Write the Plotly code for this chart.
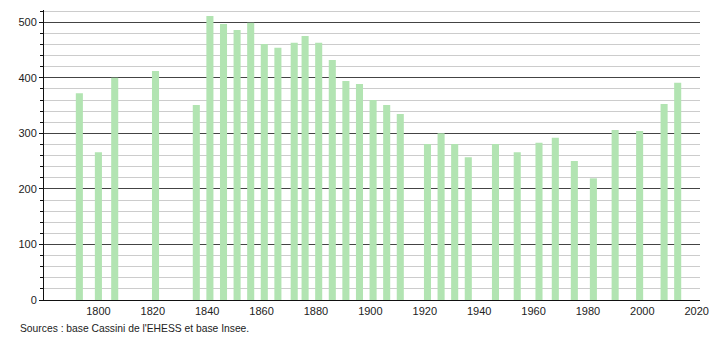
import plotly.graph_objects as go

years = [1793, 1800, 1806, 1821, 1836, 1841, 1846, 1851, 1856, 1861, 1866, 1872,
         1876, 1881, 1886, 1891, 1896, 1901, 1906, 1911, 1921, 1926, 1931, 1936,
         1946, 1954, 1962, 1968, 1975, 1982, 1990, 1999, 2008, 2013]
population = [372, 266, 400, 412, 351, 511, 497, 486, 499, 461, 454, 463,
              475, 463, 432, 394, 389, 360, 351, 335, 281, 300, 281, 257,
              281, 266, 283, 292, 250, 219, 306, 304, 353, 391]
x_ticks = [1800, 1820, 1840, 1860, 1880, 1900, 1920, 1940, 1960, 1980, 2000, 2020]
y_ticks = [0, 100, 200, 300, 400, 500]
source_text = "Sources : base Cassini de l'EHESS et base Insee."

FONT = "Liberation Sans, Arial, sans-serif"

fig = go.Figure()
fig.add_trace(go.Bar(
    x=years, y=population, width=2.6,
    marker=dict(color="#b2e4b2", line=dict(width=0)),
    hoverinfo="x+y",
))

fig.update_layout(
    width=710, height=340,
    margin=dict(l=44, r=10, t=10, b=40, autoexpand=False),
    paper_bgcolor="white", plot_bgcolor="white",
    showlegend=False,
    font=dict(family=FONT, size=11, color="#222"),
    xaxis=dict(
        range=[1780, 2021.2],
        tickvals=x_ticks,
        ticktext=[str(t) for t in x_ticks],
        showgrid=False, zeroline=False, automargin=False,
        showline=True, linecolor="#111", linewidth=1,
        ticks="", ticklabelstandoff=1,
        tickfont=dict(family=FONT, size=11, color="#222"),
    ),
    yaxis=dict(
        range=[0, 522],
        tickvals=y_ticks, automargin=False,
        showgrid=True, gridcolor="#444", gridwidth=1,
        zeroline=False,
        showline=True, linecolor="#111", linewidth=1,
        ticks="outside", ticklen=4, tickcolor="#111",
        tickfont=dict(family=FONT, size=11, color="#222"),
        minor=dict(dtick=20, tick0=0, showgrid=True, gridcolor="#cccccc",
                   gridwidth=1, ticks="outside", ticklen=3, tickcolor="#111"),
    ),
    annotations=[dict(
        text=source_text, xref="paper", yref="paper",
        x=-0.040, y=-0.097, xanchor="left", yanchor="middle",
        showarrow=False, font=dict(family=FONT, size=10.3, color="#222"),
    )],
)

fig.write_html("out.html")
